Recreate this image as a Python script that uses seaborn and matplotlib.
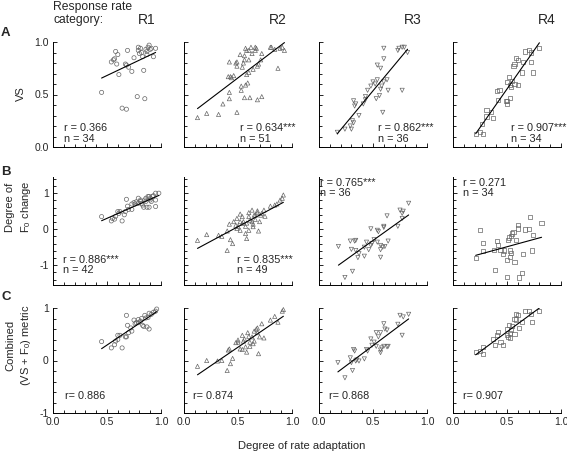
import numpy as np
import pandas as pd
import matplotlib
matplotlib.use("Agg")
import matplotlib.pyplot as plt
from matplotlib.ticker import MultipleLocator, NullFormatter
import seaborn as sns

# ---- data ----
columns = ["R1", "R2", "R3", "R4"]
markers = ["o", "^", "v", "s"]

# Row A: VS
vs_r1_x = [0.45, 0.54, 0.56, 0.57, 0.58, 0.60, 0.59, 0.61, 0.64, 0.68, 0.67, 0.68, 0.69, 0.70, 0.73, 0.75, 0.78,
           0.79, 0.79, 0.80, 0.81, 0.83, 0.84, 0.85, 0.86, 0.87, 0.88, 0.89, 0.90, 0.91, 0.93, 0.95, 0.87, 0.82]
vs_r1_y = [0.52, 0.81, 0.83, 0.84, 0.91, 0.88, 0.79, 0.69, 0.37, 0.36, 0.79, 0.78, 0.92, 0.76, 0.72, 0.85, 0.48,
           0.95, 0.92, 0.89, 0.94, 0.86, 0.73, 0.46, 0.93, 0.91, 0.95, 0.97, 0.93, 0.94, 0.86, 0.94, 0.88, 0.90]
vs_r2_x = [0.125, 0.21, 0.32, 0.36, 0.42, 0.42, 0.41, 0.44, 0.43, 0.49, 0.42, 0.48, 0.49, 0.49, 0.54, 0.53, 0.57,
           0.56, 0.61, 0.68, 0.72, 0.59, 0.58, 0.60, 0.64, 0.68, 0.69, 0.72, 0.66, 0.62, 0.58, 0.56, 0.52, 0.60,
           0.56, 0.66, 0.67, 0.80, 0.81, 0.84, 0.87, 0.91, 0.93, 0.89, 0.71, 0.63, 0.57, 0.55, 0.46, 0.53, 0.60]
vs_r2_y = [0.28, 0.32, 0.31, 0.41, 0.46, 0.52, 0.67, 0.66, 0.67, 0.33, 0.81, 0.80, 0.81, 0.77, 0.76, 0.58, 0.59,
           0.47, 0.47, 0.45, 0.48, 0.61, 0.69, 0.71, 0.74, 0.77, 0.79, 0.89, 0.92, 0.95, 0.92, 0.87, 0.88, 0.83,
           0.83, 0.95, 0.94, 0.95, 0.95, 0.93, 0.75, 0.95, 0.92, 0.94, 0.83, 0.89, 0.94, 0.80, 0.68, 0.54, 0.92]
vs_r3_x = [0.17, 0.24, 0.29, 0.31, 0.30, 0.32, 0.37, 0.32, 0.34, 0.33, 0.43, 0.43, 0.45, 0.48, 0.50, 0.52, 0.54,
           0.57, 0.58, 0.60, 0.63, 0.64, 0.56, 0.53, 0.59, 0.77, 0.54, 0.57, 0.60, 0.60, 0.73, 0.74, 0.77, 0.79,
           0.82, 0.41]
vs_r3_y = [0.14, 0.17, 0.20, 0.25, 0.17, 0.23, 0.30, 0.44, 0.41, 0.39, 0.45, 0.48, 0.54, 0.58, 0.62, 0.60, 0.64,
           0.55, 0.58, 0.62, 0.64, 0.54, 0.49, 0.46, 0.33, 0.54, 0.78, 0.75, 0.84, 0.94, 0.92, 0.94, 0.95, 0.95,
           0.90, 0.41]
vs_r4_x = [0.21, 0.25, 0.28, 0.27, 0.31, 0.31, 0.35, 0.37, 0.42, 0.41, 0.43, 0.50, 0.50, 0.53, 0.50, 0.53, 0.52,
           0.55, 0.54, 0.57, 0.60, 0.57, 0.56, 0.58, 0.60, 0.64, 0.65, 0.67, 0.70, 0.72, 0.80, 0.72, 0.74, 0.49]
vs_r4_y = [0.12, 0.14, 0.12, 0.22, 0.29, 0.35, 0.33, 0.28, 0.45, 0.53, 0.54, 0.44, 0.41, 0.47, 0.62, 0.59, 0.67,
           0.63, 0.57, 0.60, 0.59, 0.79, 0.77, 0.85, 0.83, 0.71, 0.81, 0.91, 0.92, 0.90, 0.94, 0.81, 0.71, 0.44]

# Row B: degree of F0 change
f0_r1_x = [0.45, 0.54, 0.57, 0.58, 0.60, 0.62, 0.64, 0.67, 0.68, 0.69, 0.70, 0.73, 0.75, 0.76, 0.79, 0.79, 0.81,
           0.83, 0.84, 0.85, 0.86, 0.87, 0.89, 0.89, 0.90, 0.92, 0.93, 0.95, 0.95, 0.98, 0.95, 0.77, 0.73, 0.81,
           0.61, 0.66, 0.55, 0.86, 0.90, 0.82, 0.91, 0.88]
f0_r1_y = [0.35, 0.23, 0.28, 0.36, 0.49, 0.49, 0.23, 0.49, 0.83, 0.64, 0.55, 0.55, 0.74, 0.70, 0.86, 0.72, 0.77,
           0.67, 0.61, 0.81, 0.77, 0.61, 0.61, 0.91, 0.86, 0.91, 0.93, 0.81, 1.00, 1.00, 0.63, 0.76, 0.70, 0.81,
           0.44, 0.40, 0.30, 0.86, 0.81, 0.72, 0.77, 0.91]
f0_r2_x = [0.125, 0.21, 0.32, 0.35, 0.40, 0.40, 0.43, 0.45, 0.42, 0.48, 0.49, 0.49, 0.52, 0.52, 0.54, 0.55, 0.57,
           0.58, 0.58, 0.60, 0.61, 0.63, 0.64, 0.65, 0.66, 0.68, 0.69, 0.70, 0.71, 0.72, 0.74, 0.68, 0.75, 0.80,
           0.84, 0.86, 0.89, 0.92, 0.91, 0.63, 0.57, 0.50, 0.46, 0.60, 0.64, 0.54, 0.66, 0.52, 0.60]
f0_r2_y = [-0.31, -0.15, -0.17, -0.20, -0.05, -0.59, -0.29, -0.40, 0.14, 0.11, 0.02, 0.30, 0.21, -0.03, 0.35, 0.21,
           -0.12, -0.26, 0.17, 0.35, 0.25, 0.21, 0.07, 0.39, 0.27, 0.46, -0.05, 0.21, 0.39, 0.44, 0.53, 0.51, 0.36,
           0.64, 0.67, 0.70, 0.81, 0.95, 0.86, 0.53, 0.08, 0.08, 0.21, 0.46, 0.14, 0.16, 0.39, 0.42, -0.03]
f0_r3_x = [0.18, 0.24, 0.31, 0.29, 0.33, 0.34, 0.30, 0.34, 0.37, 0.36, 0.42, 0.44, 0.46, 0.48, 0.49, 0.51, 0.54,
           0.55, 0.57, 0.57, 0.59, 0.61, 0.60, 0.60, 0.64, 0.63, 0.73, 0.75, 0.77, 0.78, 0.77, 0.83, 0.57, 0.48,
           0.42, 0.54]
f0_r3_y = [-0.48, -1.34, -1.17, -0.33, -0.33, -0.31, -0.56, -0.59, -0.68, -0.79, -0.75, -0.36, -0.57, 0.01, -0.40,
           -0.29, -0.03, -0.07, -0.45, -0.78, -0.50, -0.48, 0.08, 0.05, -0.33, 0.37, 0.08, 0.53, 0.44, 0.50, 0.30,
           0.72, -0.57, -0.45, -0.50, -0.36]
f0_r4_x = [0.21, 0.25, 0.28, 0.28, 0.38, 0.39, 0.41, 0.42, 0.44, 0.46, 0.50, 0.50, 0.51, 0.52, 0.53, 0.53, 0.54,
           0.55, 0.56, 0.57, 0.58, 0.60, 0.60, 0.61, 0.64, 0.65, 0.67, 0.70, 0.71, 0.73, 0.74, 0.82, 0.54, 0.47]
f0_r4_y = [-0.79, -0.03, -0.38, -0.61, -0.57, -1.13, -0.33, -0.45, -0.57, -0.68, -0.85, -1.32, -0.31, -0.23, -0.59,
           -0.78, -0.20, -0.12, -0.07, -0.92, -0.31, 0.11, 0.02, -1.34, -1.22, -0.68, -0.01, 0.01, 0.33, -0.59,
           -0.17, 0.18, -0.66, -0.59]

# Row C: combined (VS + F0) metric
cm_r1_x = [0.45, 0.54, 0.57, 0.58, 0.60, 0.62, 0.64, 0.67, 0.68, 0.69, 0.70, 0.73, 0.75, 0.76, 0.79, 0.79, 0.81,
           0.83, 0.84, 0.85, 0.86, 0.87, 0.89, 0.89, 0.91, 0.93, 0.95, 0.96, 0.68, 0.77, 0.82, 0.88, 0.60, 0.72]
cm_r1_y = [0.36, 0.24, 0.30, 0.37, 0.48, 0.48, 0.24, 0.45, 0.86, 0.67, 0.53, 0.56, 0.77, 0.70, 0.78, 0.72, 0.75,
           0.67, 0.65, 0.86, 0.81, 0.64, 0.60, 0.90, 0.88, 0.92, 0.94, 0.98, 0.45, 0.72, 0.80, 0.82, 0.40, 0.62]
cm_r2_x = [0.125, 0.21, 0.31, 0.35, 0.40, 0.43, 0.45, 0.42, 0.41, 0.48, 0.50, 0.50, 0.52, 0.54, 0.55, 0.57, 0.58,
           0.59, 0.60, 0.61, 0.63, 0.64, 0.65, 0.67, 0.68, 0.69, 0.70, 0.72, 0.74, 0.80, 0.84, 0.87, 0.91, 0.92,
           0.61, 0.56, 0.65, 0.68, 0.54]
cm_r2_y = [-0.11, 0.00, -0.01, 0.00, -0.19, -0.06, 0.04, 0.22, 0.20, 0.34, 0.35, 0.39, 0.22, 0.48, 0.37, 0.26,
           0.16, 0.53, 0.46, 0.35, 0.45, 0.32, 0.56, 0.60, 0.53, 0.13, 0.45, 0.70, 0.43, 0.77, 0.84, 0.73, 0.94,
           0.97, 0.27, 0.41, 0.37, 0.62, 0.21]
cm_r3_x = [0.175, 0.24, 0.29, 0.30, 0.31, 0.32, 0.33, 0.34, 0.35, 0.37, 0.42, 0.44, 0.45, 0.48, 0.49, 0.51, 0.53,
           0.55, 0.57, 0.57, 0.58, 0.60, 0.60, 0.61, 0.63, 0.64, 0.63, 0.73, 0.75, 0.77, 0.78, 0.83, 0.57, 0.53]
cm_r3_y = [-0.04, -0.33, 0.05, -0.04, -0.19, 0.21, 0.18, -0.01, 0.01, -0.01, 0.03, 0.21, 0.18, 0.41, 0.29, 0.35,
           0.53, 0.45, 0.15, 0.20, 0.24, 0.27, 0.70, 0.60, 0.26, 0.27, 0.58, 0.69, 0.86, 0.48, 0.83, 0.88, 0.53, 0.27]
cm_r4_x = [0.21, 0.25, 0.28, 0.28, 0.37, 0.39, 0.41, 0.42, 0.44, 0.46, 0.50, 0.51, 0.52, 0.53, 0.54, 0.55, 0.57,
           0.58, 0.58, 0.60, 0.61, 0.64, 0.67, 0.70, 0.72, 0.73, 0.80, 0.53, 0.50, 0.57]
cm_r4_y = [0.16, 0.18, 0.13, 0.26, 0.41, 0.30, 0.48, 0.54, 0.35, 0.30, 0.48, 0.45, 0.67, 0.53, 0.58, 0.65, 0.79,
           0.88, 0.78, 0.86, 0.62, 0.73, 0.94, 0.94, 0.88, 0.73, 0.95, 0.43, 0.60, 0.50]

vs_labels = ["r = 0.366\nn = 34", "r = 0.634***\nn = 51", "r = 0.862***\nn = 36", "r = 0.907***\nn = 34"]
f0_labels = ["r = 0.886***\nn = 42", "r = 0.835***\nn = 49", "r = 0.765***\nn = 36", "r = 0.271\nn = 34"]
cm_labels = ["r= 0.886", "r= 0.874", "r= 0.868", "r= 0.907"]

rows = [
    dict(xs=[vs_r1_x, vs_r2_x, vs_r3_x, vs_r4_x], ys=[vs_r1_y, vs_r2_y, vs_r3_y, vs_r4_y], labels=vs_labels,
         ylim=(0, 1.0), major=0.5, minor=0.1, fmt="%.1f"),
    dict(xs=[f0_r1_x, f0_r2_x, f0_r3_x, f0_r4_x], ys=[f0_r1_y, f0_r2_y, f0_r3_y, f0_r4_y], labels=f0_labels,
         ylim=(-1.55, 1.45), major=1, minor=0.2, fmt="%d"),
    dict(xs=[cm_r1_x, cm_r2_x, cm_r3_x, cm_r4_x], ys=[cm_r1_y, cm_r2_y, cm_r3_y, cm_r4_y], labels=cm_labels,
         ylim=(-1, 1), major=1, minor=0.2, fmt="%d"),
]

# text anchor (x, y, va) per panel in axes coords
label_pos = [
    [(0.10, 0.03, "bottom"), (0.52, 0.03, "bottom"), (0.55, 0.03, "bottom"), (0.54, 0.03, "bottom")],
    [(0.09, 0.09, "bottom"), (0.49, 0.09, "bottom"), (0.01, 0.99, "top"), (0.09, 0.99, "top")],
    [(0.11, 0.11, "bottom"), (0.08, 0.11, "bottom"), (0.09, 0.11, "bottom"), (0.09, 0.11, "bottom")],
]

sns.set_style("ticks")
plt.rcParams["font.family"] = ["Liberation Sans", "DejaVu Sans"]
plt.rcParams["mathtext.fontset"] = "custom"
plt.rcParams["mathtext.rm"] = "Liberation Sans"

W, H = 567, 457
fig = plt.figure(figsize=(W / 100, H / 100), dpi=100)

col_left = [53, 184, 319, 453]
col_w = 108
row_box = [(42, 147), (177, 285), (308, 413)]  # top, bottom in px

for i, row in enumerate(rows):
    top, bot = row_box[i]
    for j in range(4):
        ax = fig.add_axes([col_left[j] / W, 1 - bot / H, col_w / W, (bot - top) / H])
        df = pd.DataFrame({"x": row["xs"][j], "y": row["ys"][j]})
        sns.regplot(data=df, x="x", y="y", ax=ax, ci=None, marker=markers[j],
                    scatter_kws=dict(s=9, facecolors="none", edgecolors="0.4", linewidths=0.5,
                                     alpha=1, clip_on=False),
                    line_kws=dict(color="black", lw=0.8))
        ax.set_xlim(0, 1.0)
        ax.set_ylim(*row["ylim"])
        ax.set_xlabel("")
        ax.set_ylabel("")
        sns.despine(ax=ax)
        for s in ["left", "bottom"]:
            ax.spines[s].set_linewidth(0.7)
            ax.spines[s].set_color("black")
        ax.xaxis.set_major_locator(MultipleLocator(0.5))
        ax.xaxis.set_minor_locator(MultipleLocator(0.1))
        ax.yaxis.set_major_locator(MultipleLocator(row["major"]))
        ax.yaxis.set_minor_locator(MultipleLocator(row["minor"]))
        ax.tick_params(which="both", direction="in", width=0.6, labelsize=7.5, pad=3, color="black")
        ax.tick_params(which="major", length=3)
        ax.tick_params(which="minor", length=2.5)
        if i == 2:
            ax.xaxis.set_major_formatter(plt.FormatStrFormatter("%.1f"))
        else:
            ax.xaxis.set_major_formatter(NullFormatter())
        if j == 0:
            ax.yaxis.set_major_formatter(plt.FormatStrFormatter(row["fmt"]))
        else:
            ax.yaxis.set_major_formatter(NullFormatter())
        tx, ty, va = label_pos[i][j]
        ax.text(tx, ty, row["labels"][j], transform=ax.transAxes, fontsize=7.8, va=va, ha="left",
                linespacing=1.05)
        if i == 0:
            ax.text(0.87, 1.21, columns[j], transform=ax.transAxes, fontsize=10, ha="center", va="center")

# figure level text
fig.text(53 / W, 1 - 13.5 / H, "Response rate\ncategory:", fontsize=8.7, ha="left", va="center",
         linespacing=1.05)
for letter, y in [("A", 33), ("B", 172), ("C", 297)]:
    fig.text(1 / W, 1 - y / H, letter, fontsize=9.5, fontweight="bold", va="center", ha="left")

fig.text(21 / W, 1 - 94 / H, "VS", rotation=90, fontsize=8, ha="center", va="center")
fig.text(19 / W, 1 - 207 / H, "Degree of\nF$_0$ change", rotation=90, fontsize=8, ha="center",
         va="center", linespacing=1.4)
fig.text(19 / W, 1 - 345 / H, "Combined\n(VS + F$_0$) metric", rotation=90, fontsize=8, ha="center",
         va="center", linespacing=1.4)
fig.text(302 / W, 1 - 446 / H, "Degree of rate adaptation", fontsize=8, ha="center", va="center")

fig.savefig("out.png", dpi=100)
